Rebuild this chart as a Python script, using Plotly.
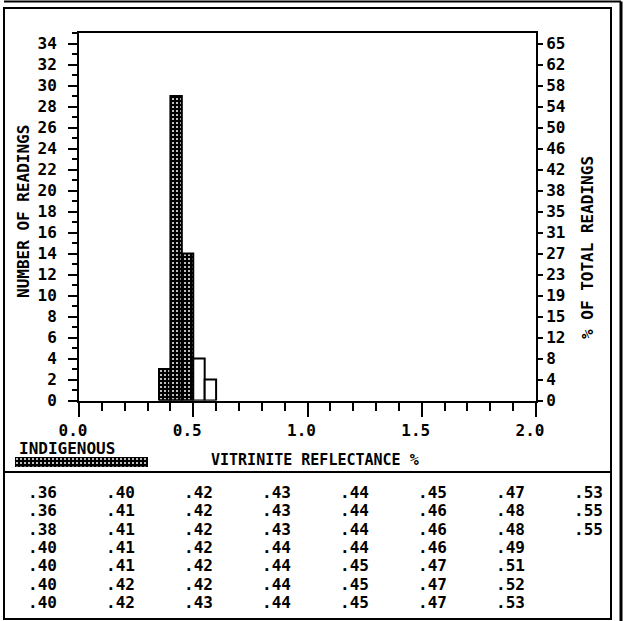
import plotly.graph_objects as go

W, H = 629, 621


def px(x):
    return x / W


def py(y):
    return 1 - y / H


# ---------------- data ----------------
bin_centers = [0.375, 0.425, 0.475, 0.525, 0.575]
bin_width = 0.05
indigenous_counts = [3, 29, 14, 0, 0]
other_counts = [0, 0, 0, 4, 2]

count_ticks = list(range(0, 35, 2))
percent_labels = ["0", "4", "8", "12", "15", "19", "23", "27", "31", "35",
                  "38", "42", "46", "50", "54", "58", "62", "65"]
x_ticks = [0.0, 0.5, 1.0, 1.5, 2.0]
x_tick_labels = ["0.0", "0.5", "1.0", "1.5", "2.0"]

readings_col1 = [".36", ".36", ".38", ".40", ".40", ".40", ".40"]
readings_col2 = [".40", ".41", ".41", ".41", ".41", ".42", ".42"]
readings_col3 = [".42", ".42", ".42", ".42", ".42", ".42", ".43"]
readings_col4 = [".43", ".43", ".43", ".44", ".44", ".44", ".44"]
readings_col5 = [".44", ".44", ".44", ".44", ".45", ".45", ".45"]
readings_col6 = [".45", ".46", ".46", ".46", ".47", ".47", ".47"]
readings_col7 = [".47", ".48", ".48", ".49", ".51", ".52", ".53"]
readings_col8 = [".53", ".55", ".55"]
reading_columns = [readings_col1, readings_col2, readings_col3, readings_col4,
                   readings_col5, readings_col6, readings_col7, readings_col8]

# ---------------- style ----------------
FONT = "DejaVu Sans Mono"
tick_font = dict(family=FONT, size=16, color="black", weight="bold")
dark_pattern = dict(shape=".", fgcolor="white", bgcolor="black", size=4,
                    solidity=0.2, fillmode="replace")

fig = go.Figure()

fig.add_trace(go.Bar(
    x=bin_centers, y=indigenous_counts, width=bin_width,
    marker=dict(color="black", pattern=dark_pattern,
                line=dict(color="black", width=2)),
    showlegend=False, xaxis="x", yaxis="y",
))
fig.add_trace(go.Bar(
    x=bin_centers, y=other_counts, width=bin_width,
    marker=dict(color="white", line=dict(color="black", width=2)),
    showlegend=False, xaxis="x", yaxis="y",
))
# invisible trace to activate the right axis
fig.add_trace(go.Scatter(x=[0], y=[0], mode="markers", marker=dict(opacity=0),
                         showlegend=False, hoverinfo="skip", xaxis="x", yaxis="y2"))

# legend swatch
fig.add_trace(go.Bar(
    x=[1], y=[0], orientation="h", width=1,
    marker=dict(color="black", pattern=dark_pattern,
                line=dict(color="black", width=1)),
    showlegend=False, xaxis="x3", yaxis="y3",
))

x_dom = [px(79), px(536)]
y_dom = [py(400.5), py(33)]

fig.update_layout(
    template="none",
    width=W, height=H,
    margin=dict(l=0, r=0, t=0, b=0, pad=0, autoexpand=False),
    paper_bgcolor="white", plot_bgcolor="white",
    barmode="overlay", showlegend=False,
    xaxis=dict(
        domain=x_dom, range=[0, 2.0], showgrid=False, zeroline=False,
        automargin=False,
        showline=True, linecolor="black", linewidth=2, mirror=True,
        tickmode="array", tickvals=x_ticks, ticktext=x_tick_labels,
        ticks="outside", ticklen=14, tickwidth=2, tickcolor="black",
        minor=dict(dtick=0.1, tick0=0, ticks="outside", ticklen=8,
                   tickwidth=2, tickcolor="black", showgrid=False),
        tickfont=tick_font, ticklabelshift=-6, ticklabelstandoff=0,
    ),
    yaxis=dict(
        domain=y_dom, range=[0, 35], showgrid=False, zeroline=False,
        automargin=False,
        showline=True, linecolor="black", linewidth=2, mirror=True,
        tickmode="array", tickvals=count_ticks,
        ticks="outside", ticklen=9, tickwidth=2, tickcolor="black",
        minor=dict(dtick=1, tick0=0, ticks="outside", ticklen=5,
                   tickwidth=2, tickcolor="black", showgrid=False),
        tickfont=tick_font, ticklabelstandoff=8,
    ),
    yaxis2=dict(
        overlaying="y", side="right", range=[0, 35], showgrid=False,
        automargin=False,
        zeroline=False, showline=True, linecolor="black", linewidth=2,
        tickmode="array", tickvals=count_ticks, ticktext=percent_labels,
        ticks="outside", ticklen=5, tickwidth=2, tickcolor="black",
        tickfont=tick_font, ticklabelstandoff=0,
    ),
    xaxis3=dict(domain=[px(15), px(148)], range=[0, 1], visible=False,
                automargin=False, fixedrange=True, anchor="y3"),
    yaxis3=dict(domain=[py(467), py(457)], range=[-0.5, 0.5], visible=False,
                automargin=False, fixedrange=True, anchor="x3"),
)

title_font = dict(family=FONT, size=16, color="black", weight="bold")
annotations = [
    dict(text="NUMBER OF READINGS", x=px(24), y=py(212), xref="paper", yref="paper",
         textangle=-90, showarrow=False, font=title_font, xanchor="center", yanchor="middle"),
    dict(text="% OF TOTAL READINGS", x=px(587), y=py(248), xref="paper", yref="paper",
         textangle=-90, showarrow=False, font=title_font, xanchor="center", yanchor="middle"),
    dict(text="VITRINITE REFLECTANCE %", x=px(315), y=py(460), xref="paper", yref="paper",
         showarrow=False, font=dict(family=FONT, size=15, color="black", weight="bold"),
         xanchor="center", yanchor="middle"),
    dict(text="INDIGENOUS", x=px(17), y=py(448), xref="paper", yref="paper",
         showarrow=False, font=dict(family=FONT, size=16, color="black", weight="bold"),
         xanchor="left", yanchor="middle"),
]
for ci, col in enumerate(reading_columns):
    for ri, val in enumerate(col):
        annotations.append(dict(
            text=val, x=px(26 + 78 * ci), y=py(492.5 + 18.3 * ri),
            xref="paper", yref="paper", showarrow=False,
            font=dict(family=FONT, size=16, color="black", weight="bold"),
            xanchor="left", yanchor="middle"))
fig.update_layout(annotations=annotations)

line = dict(color="black", width=2)
shapes = [
    dict(type="rect", xref="paper", yref="paper", x0=px(4), x1=px(611),
         y0=py(619), y1=py(8), line=line),
    dict(type="line", xref="paper", yref="paper", x0=px(4), x1=px(611),
         y0=py(472), y1=py(472), line=line),
    dict(type="line", xref="paper", yref="paper", x0=px(4), x1=px(621),
         y0=py(1.5), y1=py(1.5), line=line),
    dict(type="line", xref="paper", yref="paper", x0=px(621), x1=px(621),
         y0=py(1.5), y1=py(621), line=dict(color="black", width=3)),
]
fig.update_layout(shapes=shapes)

fig.write_html("out.html")
